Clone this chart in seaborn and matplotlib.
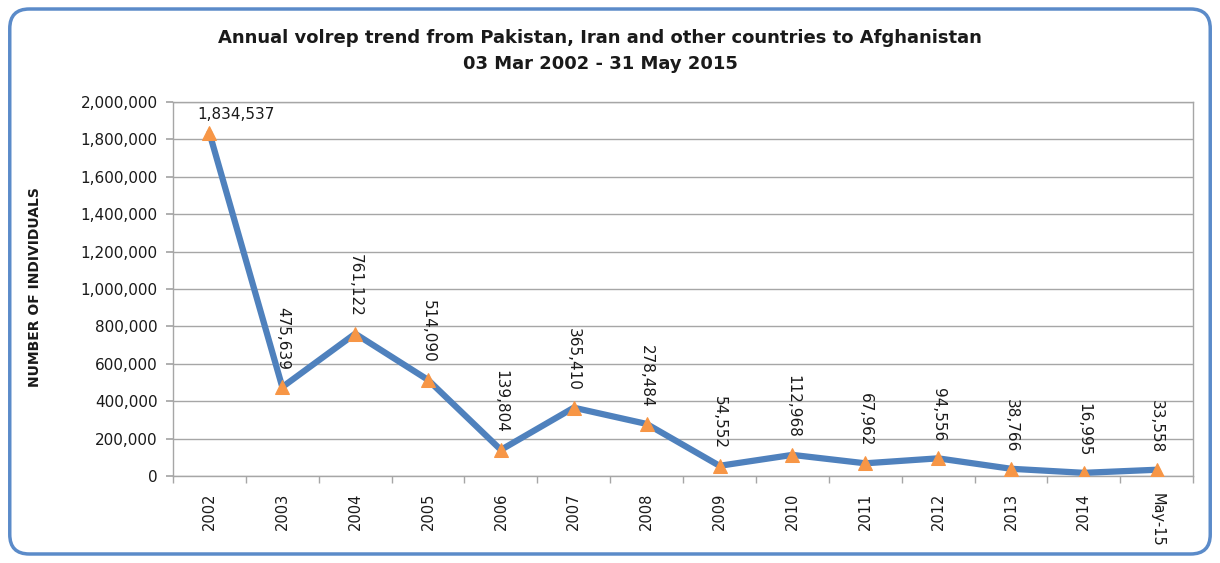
import matplotlib
matplotlib.use("Agg")
import matplotlib.pyplot as plt
import seaborn as sns
import pandas as pd
from matplotlib.patches import FancyBboxPatch
from matplotlib.ticker import FuncFormatter, FixedLocator

categories = ["2002", "2003", "2004", "2005", "2006", "2007", "2008",
              "2009", "2010", "2011", "2012", "2013", "2014", "May-15"]
values = [1834537, 475639, 761122, 514090, 139804, 365410, 278484,
          54552, 112968, 67962, 94556, 38766, 16995, 33558]

sns.set_theme(style="white")
plt.rcParams['font.family'] = ['DejaVu Sans']

df = pd.DataFrame({"cat": categories, "val": values, "pos": range(len(categories))})

fig = plt.figure(figsize=(12.2, 5.63), dpi=100)
ax = fig.add_axes([0.1418, 0.1545, 0.978 - 0.1418, 0.8188 - 0.1545])

sns.lineplot(data=df, x="pos", y="val", ax=ax, color="#4F81BD", linewidth=4.5,
             marker="^", markersize=10, markerfacecolor="#F79646",
             markeredgecolor="#F79646", zorder=3)

ax.set_xlim(-0.5, len(categories) - 0.5)
ax.set_ylim(0, 2000000)
ax.yaxis.set_major_locator(FixedLocator(range(0, 2000001, 200000)))
ax.yaxis.set_major_formatter(FuncFormatter(lambda v, p: f"{int(v):,}"))
ax.grid(axis="y", color="#A6A6A6", linewidth=1)
ax.set_axisbelow(True)

ax.set_xticks(range(len(categories)))
ax.set_xticklabels([])
ax.set_xticks([i - 0.5 for i in range(len(categories) + 1)], minor=True)
ax.tick_params(axis="x", which="major", length=0, pad=6)
ax.tick_params(axis="x", which="minor", length=5, color="#A6A6A6", direction="out", bottom=True)
ax.tick_params(axis="y", length=5, color="#A6A6A6", direction="out", left=True, labelsize=11, pad=6)
for lbl in ax.get_yticklabels():
    lbl.set_color("#1a1a1a")

for i, c in enumerate(categories):
    rot = -90 if c == "May-15" else 90
    ax.text(i, -0.045, c, transform=ax.get_xaxis_transform(), rotation=rot,
            ha="center", va="top", fontsize=10.5, color="#1a1a1a")

for spine in ax.spines.values():
    spine.set_color("#A6A6A6")
    spine.set_linewidth(1)

ax.set_xlabel("")
ax.set_ylabel("")

for i, v in enumerate(values):
    if i == 0:
        ax.annotate(f"{v:,}", (i, v), xytext=(19, 8), textcoords="offset points",
                    ha="center", va="bottom", fontsize=11, color="#1a1a1a")
    else:
        ax.annotate(f"{v:,}", (i, v), xytext=(0, 12), textcoords="offset points",
                    ha="center", va="bottom", rotation=-90, fontsize=11, color="#1a1a1a")

fig.text(0.492, 0.933, "Annual volrep trend from Pakistan, Iran and other countries to Afghanistan",
         ha="center", va="center", fontsize=13, fontweight="bold", color="#1a1a1a")
fig.text(0.492, 0.886, "03 Mar 2002 - 31 May 2015",
         ha="center", va="center", fontsize=13, fontweight="bold", color="#1a1a1a")

fig.text(0.029, 0.49, "NUMBER OF INDIVIDUALS", rotation=90, ha="center", va="center",
         fontsize=10, fontweight="bold", color="#1a1a1a")

border = FancyBboxPatch((0.008, 0.016), 0.984, 0.968, boxstyle="round,pad=0,rounding_size=0.016",
                        transform=fig.transFigure, facecolor="none", edgecolor="#5B8BC9",
                        linewidth=2.5, mutation_aspect=1220/563)
fig.patches.append(border)

fig.savefig("out.png", dpi=100)
